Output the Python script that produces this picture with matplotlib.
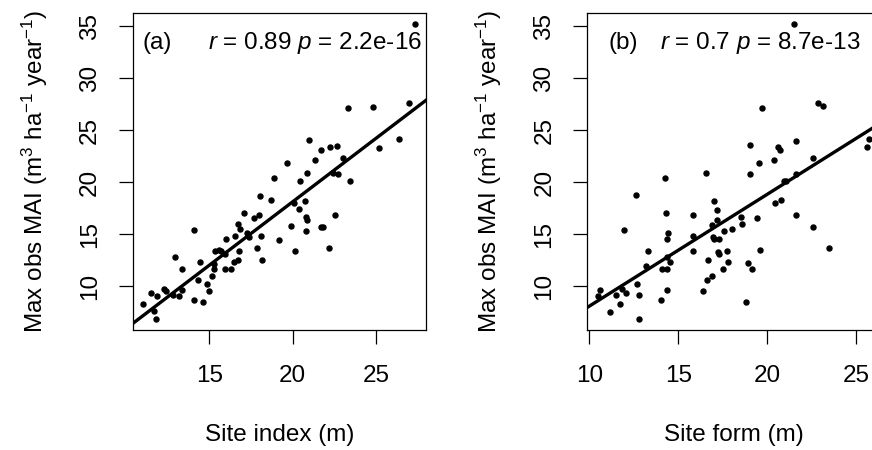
import numpy as np
import matplotlib
matplotlib.use("Agg")
import matplotlib.pyplot as plt

# ---- data ----
# panel (a): site index vs max observed MAI
si_x = [11.04, 11.48, 11.84, 11.68, 11.80, 12.30, 12.42, 12.80, 13.18, 13.34,
        12.92, 13.36, 14.06, 14.08, 14.30, 14.42, 14.60, 14.84, 14.96, 15.18,
        15.26, 15.30, 15.34, 15.56, 15.68, 15.96, 15.94, 16.28, 15.98, 16.52,
        16.50, 16.74, 16.80, 16.70, 16.84, 17.10, 17.26, 17.36, 17.66, 17.96,
        18.02, 18.08, 17.88, 18.14, 18.70, 18.86, 19.16, 19.68, 19.90, 20.06,
        20.16, 20.40, 20.46, 20.72, 20.80, 20.88, 20.78, 20.84, 21.00, 21.32,
        21.68, 21.68, 21.82, 22.18, 22.24, 22.42, 22.64, 22.72, 22.52, 23.02,
        23.42, 23.34, 24.82, 25.20, 26.36, 26.98, 27.34]
si_y = [8.27, 9.30, 9.07, 7.60, 6.83, 9.71, 9.52, 9.17, 9.04, 9.62,
        12.82, 11.67, 15.38, 8.65, 10.58, 12.31, 8.49, 10.22, 9.52, 10.96,
        11.67, 12.12, 13.37, 13.46, 13.40, 13.08, 11.67, 11.67, 14.49, 14.81,
        12.34, 12.50, 13.33, 15.96, 15.45, 17.05, 15.13, 14.68, 16.54, 16.83,
        18.69, 14.81, 13.62, 12.50, 18.24, 20.35, 14.42, 21.86, 15.80, 18.01,
        13.37, 17.37, 20.06, 18.17, 16.63, 16.35, 15.26, 20.90, 24.00, 22.08,
        23.04, 15.71, 15.71, 13.62, 23.33, 20.83, 23.49, 20.80, 16.79, 22.28,
        20.13, 27.08, 27.24, 23.30, 24.10, 27.56, 35.19]

# panel (b): site form vs max observed MAI
sf_x = [10.58, 10.50, 11.14, 11.53, 11.72, 11.85, 12.08, 11.96, 12.62, 12.71,
        12.82, 12.79, 13.16, 13.29, 14.02, 14.08, 14.26, 14.30, 14.34, 14.41,
        14.34, 14.38, 14.38, 14.53, 15.82, 15.84, 15.80, 16.38, 16.58, 16.68,
        16.64, 16.90, 16.90, 16.98, 16.94, 17.00, 17.18, 17.18, 17.28, 17.24,
        17.28, 17.52, 17.56, 17.74, 17.80, 18.02, 18.51, 18.58, 18.83, 18.92,
        19.16, 19.01, 19.01, 19.44, 19.52, 19.58, 19.73, 20.40, 20.45, 20.59,
        20.74, 20.77, 20.92, 21.07, 21.50, 21.63, 21.60, 21.60, 22.55, 22.55,
        22.87, 23.15, 23.45, 25.71, 25.62]
sf_y = [9.61, 9.04, 7.53, 9.10, 8.23, 9.71, 9.29, 15.37, 18.71, 10.22,
        9.10, 6.82, 11.96, 13.34, 8.65, 11.64, 20.35, 17.00, 14.50, 15.11,
        12.83, 11.61, 9.61, 12.35, 16.84, 14.82, 13.34, 9.52, 20.86, 12.51,
        10.58, 10.96, 15.82, 18.16, 14.76, 14.56, 17.33, 16.30, 14.50, 13.31,
        13.05, 11.67, 15.27, 13.41, 12.31, 15.46, 16.59, 15.94, 8.49, 12.25,
        11.67, 23.53, 20.80, 16.52, 21.86, 13.47, 27.13, 22.11, 18.00, 23.40,
        23.08, 18.23, 20.06, 20.12, 35.16, 23.98, 20.80, 16.78, 22.27, 15.69,
        27.61, 27.29, 13.63, 24.14, 23.34]

# fitted lines (intercept, slope)
fit_a = [-6.30, 1.22]
fit_b = [-2.70, 1.076]

stats_a = "$r$ = 0.89 $p$ = 2.2e-16"
stats_b = "$r$ = 0.7 $p$ = 8.7e-13"

plt.rcParams["font.family"] = "Liberation Sans"
plt.rcParams["mathtext.fontset"] = "custom"
plt.rcParams["mathtext.rm"] = "Liberation Sans"
plt.rcParams["mathtext.it"] = "Liberation Sans:italic"

FS = 17.5
ylab = "Max obs MAI (m$^3$ ha$^{-1}$ year$^{-1}$)"

fig = plt.figure(figsize=(8.72, 4.5), dpi=100)
ax_a = fig.add_axes([133 / 872, 120 / 450, 293 / 872, 317 / 450])
ax_b = fig.add_axes([587.3 / 872, 120 / 450, 293 / 872, 317 / 450])

panels = [
    (ax_a, si_x, si_y, fit_a, "Site index (m)", (10.42, 28.0)),
    (ax_b, sf_x, sf_y, fit_b, "Site form (m)", (9.89, 26.35)),
]

for ax, xs, ys, fit, xlab, xlim in panels:
    ax.plot(xs, ys, "o", color="black", markersize=3.6, clip_on=False)
    ax.axline((0, fit[0]), slope=fit[1], color="black", linewidth=2.4)
    ax.set_xticks([10, 15, 20, 25])
    ax.set_yticks([10, 15, 20, 25, 30, 35])
    ax.set_xlim(xlim)
    ax.set_ylim(5.77, 36.25)
    ax.tick_params(direction="out", length=10, width=0.9, labelsize=FS, color="black")
    ax.tick_params(axis="x", pad=15)
    ax.tick_params(axis="y", pad=13)
    for lbl in ax.get_yticklabels():
        lbl.set_rotation(90)
        lbl.set_va("center")
    for sp in ax.spines.values():
        sp.set_linewidth(0.9)
    ax.set_xlabel(xlab, fontsize=FS, labelpad=27)
    ax.set_ylabel(ylab, fontsize=FS, labelpad=21)

ax_a.text(0.034, 0.905, "(a)", transform=ax_a.transAxes, fontsize=FS, va="center", ha="left")
ax_a.text(0.986, 0.905, stats_a, transform=ax_a.transAxes, fontsize=FS, va="center", ha="right")
ax_b.text(0.074, 0.905, "(b)", transform=ax_b.transAxes, fontsize=FS, va="center", ha="left")
ax_b.text(0.248, 0.905, stats_b, transform=ax_b.transAxes, fontsize=FS, va="center", ha="left")

fig.savefig("out.png", dpi=100)
